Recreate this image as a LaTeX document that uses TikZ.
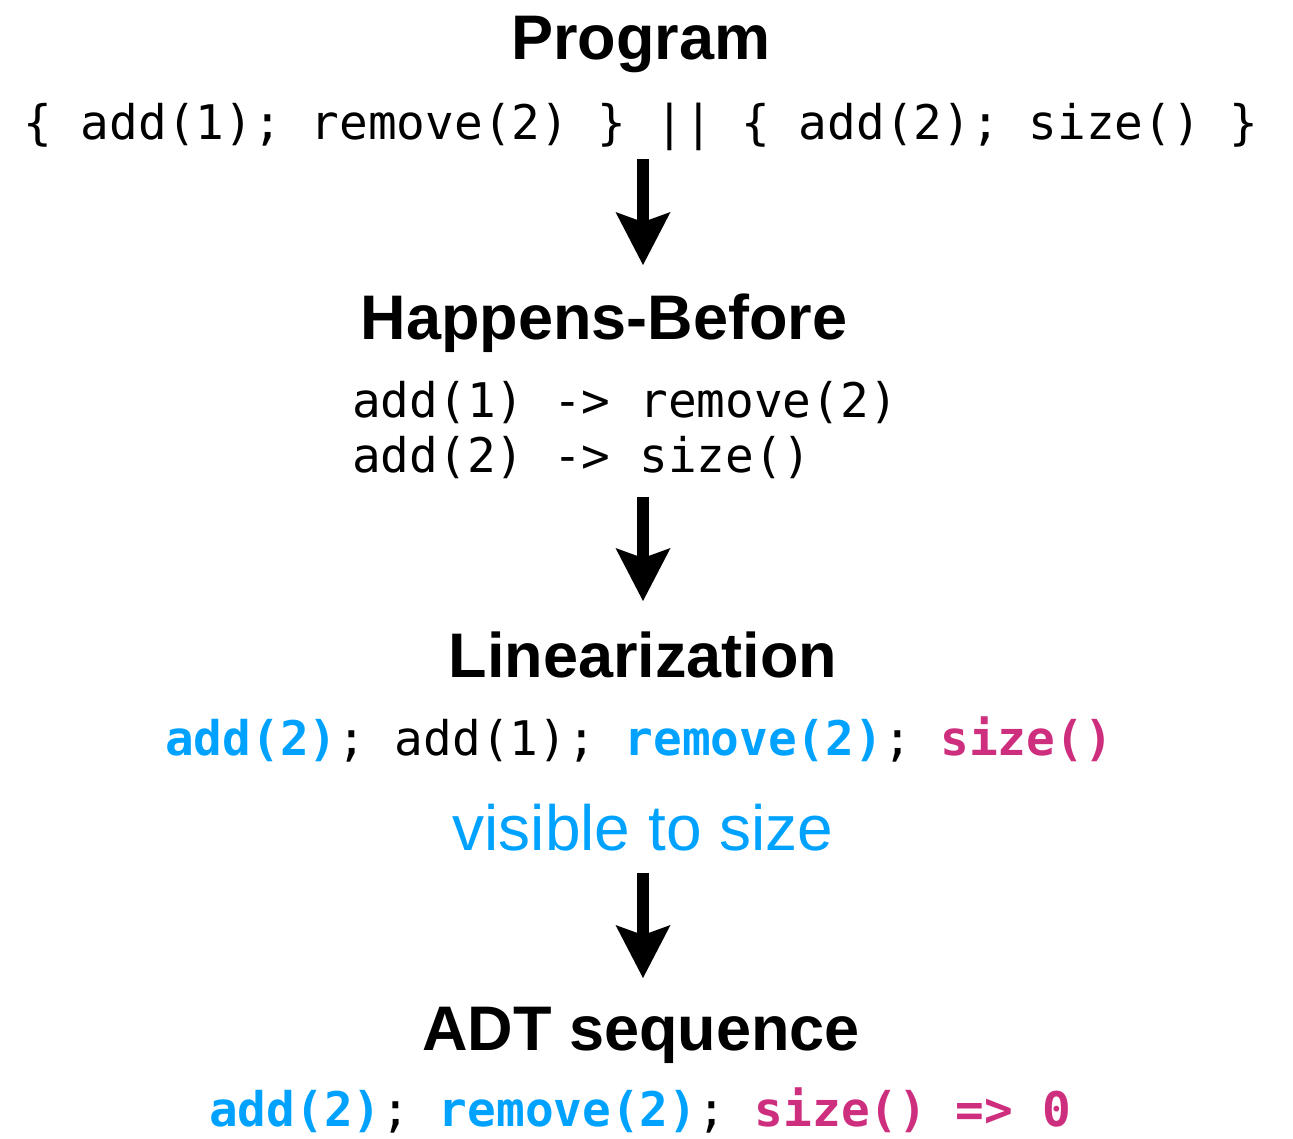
\documentclass[tikz,border=0pt]{standalone}
\usepackage{fontspec}
\setmainfont{Liberation Sans}
\setmonofont{DejaVu Sans Mono}
\usetikzlibrary{arrows.meta}
\definecolor{opblue}{RGB}{0,162,255}
\definecolor{oppink}{RGB}{206,46,126}
\begin{document}
\begin{tikzpicture}[x=1pt,y=-1pt,
  title/.style={font=\fontsize{63}{70}\selectfont\bfseries, inner sep=0pt, anchor=base},
  code/.style={font=\fontsize{47.7}{55}\selectfont\ttfamily, inner sep=0pt, anchor=base},
  note/.style={font=\fontsize{64}{70}\selectfont, text=opblue, inner sep=0pt, anchor=base},
  flow/.style={line width=12pt, -{Stealth[length=53pt,width=55pt,inset=10pt,line width=0pt]}}]
\useasboundingbox (0,0) rectangle (1293,1138);

\node[title] (prog) at (641,59) {Program};
\node[code] (progcode) at (641,139) {\{ add(1); remove(2) \} || \{ add(2); size() \}};

\node[title] (hb) at (604,339) {Happens-Before};
\node[code, anchor=base west] (hb1) at (352,417) {add(1) -> remove(2)};
\node[code, anchor=base west] (hb2) at (352,472) {add(2) -> size()};

\node[title] (lin) at (643,677) {Linearization};
\node[code] (lincode) at (639,755) {\textcolor{opblue}{\bfseries add(2)}; add(1); \textcolor{opblue}{\bfseries remove(2)}; \textcolor{oppink}{\bfseries size()}};
\node[note] (vis) at (643,850) {visible to size};

\node[title] (adt) at (641,1050) {ADT sequence};
\node[code] (adtcode) at (640,1126) {\textcolor{opblue}{\bfseries add(2)}; \textcolor{opblue}{\bfseries remove(2)}; \textcolor{oppink}{\bfseries size() => 0}};

\coordinate (a1s) at (643,159);
\coordinate (a1e) at (643,265);
\coordinate (a2s) at (643,497);
\coordinate (a2e) at (643,601);
\coordinate (a3s) at (643,873);
\coordinate (a3e) at (643,978);
\draw[flow] (a1s) -- (a1e);
\draw[flow] (a2s) -- (a2e);
\draw[flow] (a3s) -- (a3e);
\end{tikzpicture}
\end{document}
